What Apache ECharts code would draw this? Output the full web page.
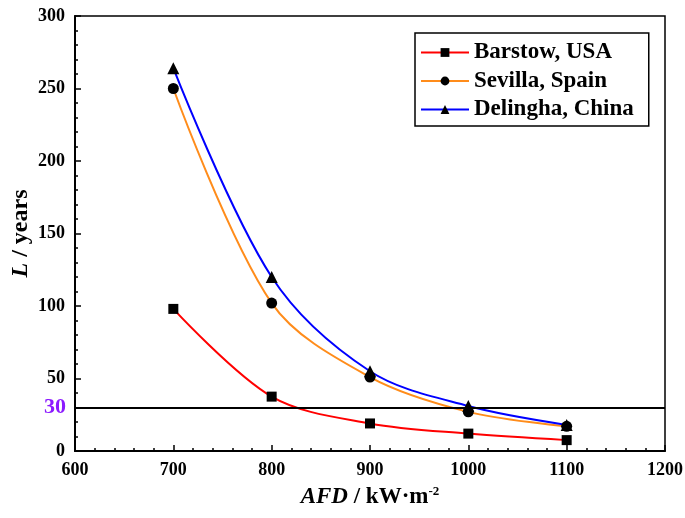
<!DOCTYPE html>
<html>
<head>
<meta charset="utf-8">
<script src="https://cdn.jsdelivr.net/npm/echarts@6/dist/echarts.min.js"></script>
<style>html,body{margin:0;padding:0;background:#fff}#c{width:685px;height:518px}</style>
</head>
<body>
<div id="c"></div>
<script>
const afd = [700, 800, 900, 1000, 1100];
const barstow = [98, 37.5, 19, 12, 7.5];
const sevilla = [250, 102, 51, 27, 17];
const delingha = [264, 120, 55, 31, 18];
const seriesNames = ['Barstow, USA', 'Sevilla, Spain', 'Delingha, China'];
const thresholdValue = 30;

const FONT = 'Liberation Serif';
const pair = (ys) => afd.map((x, i) => [x, ys[i]]);

const chart = echarts.init(document.getElementById('c'));
const mkSeries = (name, data, color, symbol, size) => ({
  name, type: 'line', data: pair(data), smooth: 0.33,
  symbol, symbolSize: size,
  lineStyle: { color, width: 2 },
  itemStyle: { color: '#000' },
  z: 3
});
const s0 = mkSeries(seriesNames[0], barstow, '#ff0000', 'rect', 10);
s0.markLine = {
  silent: true, symbol: 'none',
  lineStyle: { color: '#000', width: 2, type: 'solid' },
  label: { show: true, position: 'start', formatter: String(thresholdValue), color: '#8c1aff',
           fontFamily: FONT, fontWeight: 'bold', fontSize: 22, distance: 9 },
  data: [{ yAxis: thresholdValue }]
};
chart.setOption({
  backgroundColor: '#fff',
  animation: false,
  grid: { left: 75, right: 20, top: 16, bottom: 67, outerBoundsMode: 'none', containLabel: false,
          show: true, borderColor: '#000', borderWidth: 1.5, backgroundColor: 'transparent' },
  legend: {
    data: seriesNames,
    orient: 'vertical', left: 415, top: 33,
    itemWidth: 48, itemHeight: 11, itemGap: 5.5,
    padding: [8, 15, 5, 5],
    borderColor: '#000', borderWidth: 1.5,
    textStyle: { fontFamily: FONT, fontWeight: 'bold', fontSize: 23, color: '#000' }
  },
  xAxis: {
    type: 'value', min: 600, max: 1200, interval: 100,
    name: '{i|AFD}{n| / kW·m}{s|-2}', nameLocation: 'middle', nameGap: 34,
    nameTextStyle: {
      rich: {
        i: { fontFamily: FONT, fontStyle: 'italic', fontWeight: 'bold', fontSize: 23, color: '#000' },
        n: { fontFamily: FONT, fontWeight: 'bold', fontSize: 23, color: '#000' },
        s: { fontFamily: FONT, fontWeight: 'bold', fontSize: 13, color: '#000', verticalAlign: 'top', padding: [0, 0, 12, 0] }
      }
    },
    axisLine: { lineStyle: { color: '#000', width: 2 } },
    axisTick: { inside: true, length: 6, lineStyle: { color: '#000', width: 1.5 } },
    minorTick: { show: true, splitNumber: 5, length: 3, lineStyle: { color: '#000', width: 1.5 } },
    splitLine: { show: false },
    axisLabel: { fontFamily: FONT, fontWeight: 'bold', fontSize: 18, color: '#000', margin: 10, formatter: v => String(v) }
  },
  yAxis: {
    type: 'value', min: 0, max: 300, interval: 50,
    name: '{i|L}{n| / years}', nameLocation: 'middle', nameGap: 42, nameRotate: 90, nameMoveOverlap: false,
    nameTextStyle: {
      rich: {
        i: { fontFamily: FONT, fontStyle: 'italic', fontWeight: 'bold', fontSize: 24, color: '#000' },
        n: { fontFamily: FONT, fontWeight: 'bold', fontSize: 24, color: '#000' }
      }
    },
    axisLine: { lineStyle: { color: '#000', width: 2 } },
    axisTick: { inside: true, length: 6, lineStyle: { color: '#000', width: 1.5 } },
    minorTick: { show: true, splitNumber: 5, length: 3, lineStyle: { color: '#000', width: 1.5 } },
    splitLine: { show: false },
    axisLabel: { fontFamily: FONT, fontWeight: 'bold', fontSize: 18, color: '#000', margin: 10, formatter: v => String(v) }
  },
  series: [
    s0,
    mkSeries(seriesNames[1], sevilla, '#ff8c1a', 'circle', 11),
    mkSeries(seriesNames[2], delingha, '#0000ff', 'triangle', 12)
  ]
});
</script>
</body>
</html>
